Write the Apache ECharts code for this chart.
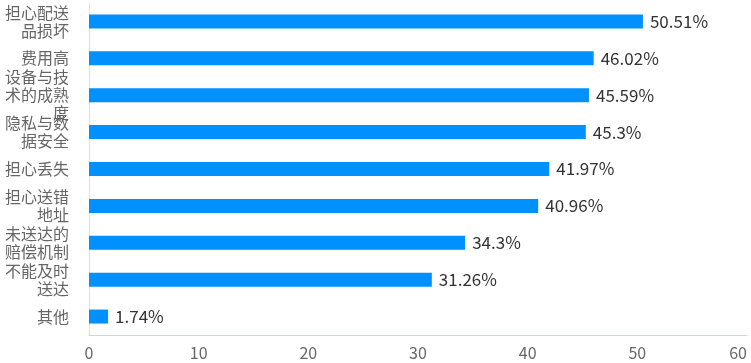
<!DOCTYPE html>
<html><head><meta charset="utf-8">
<script src="https://cdn.jsdelivr.net/npm/echarts@6/dist/echarts.min.js"></script>
<style>html,body{margin:0;padding:0;background:#fff;overflow:hidden}#c{width:751px;height:363px}</style>
</head><body><div id="c"></div>
<script>
const categories = ['担心配送品损坏','费用高','设备与技术的成熟度','隐私与数据安全','担心丢失','担心送错地址','未送达的赔偿机制','不能及时送达','其他'];
const values = [50.51, 46.02, 45.59, 45.3, 41.97, 40.96, 34.3, 31.26, 1.74];
const xTicks = {min: 0, max: 60, interval: 10};

const chart = echarts.init(document.getElementById('c'));
const ff = '"Noto Sans CJK SC", "Noto Sans", sans-serif';
chart.setOption({
  animation: false,
  grid: {left: 89, right: 4, top: 3, bottom: 28, containLabel: false, outerBoundsMode: 'none'},
  xAxis: {
    type: 'value', min: xTicks.min, max: xTicks.max, interval: xTicks.interval,
    axisLine: {show: true, lineStyle: {color: '#C9D5EE'}},
    axisTick: {show: false},
    splitLine: {show: false},
    axisLabel: {color: '#666', fontSize: 16, margin: 10, fontFamily: ff, alignMaxLabel: 'right'}
  },
  yAxis: {
    type: 'category', inverse: true, data: categories,
    axisLine: {show: true, lineStyle: {color: '#D6DEF0'}},
    axisTick: {show: false},
    axisLabel: {color: '#666', fontSize: 16, lineHeight: 18, width: 66, overflow: 'break', margin: 20, align: 'right', fontFamily: ff}
  },
  series: [{
    type: 'bar', data: values, barWidth: 14,
    itemStyle: {color: '#0091FF'},
    label: {show: true, position: 'right', distance: 7, color: '#333', fontSize: 17, fontFamily: ff, formatter: p => p.value + '%'}
  }]
});
</script></body></html>
